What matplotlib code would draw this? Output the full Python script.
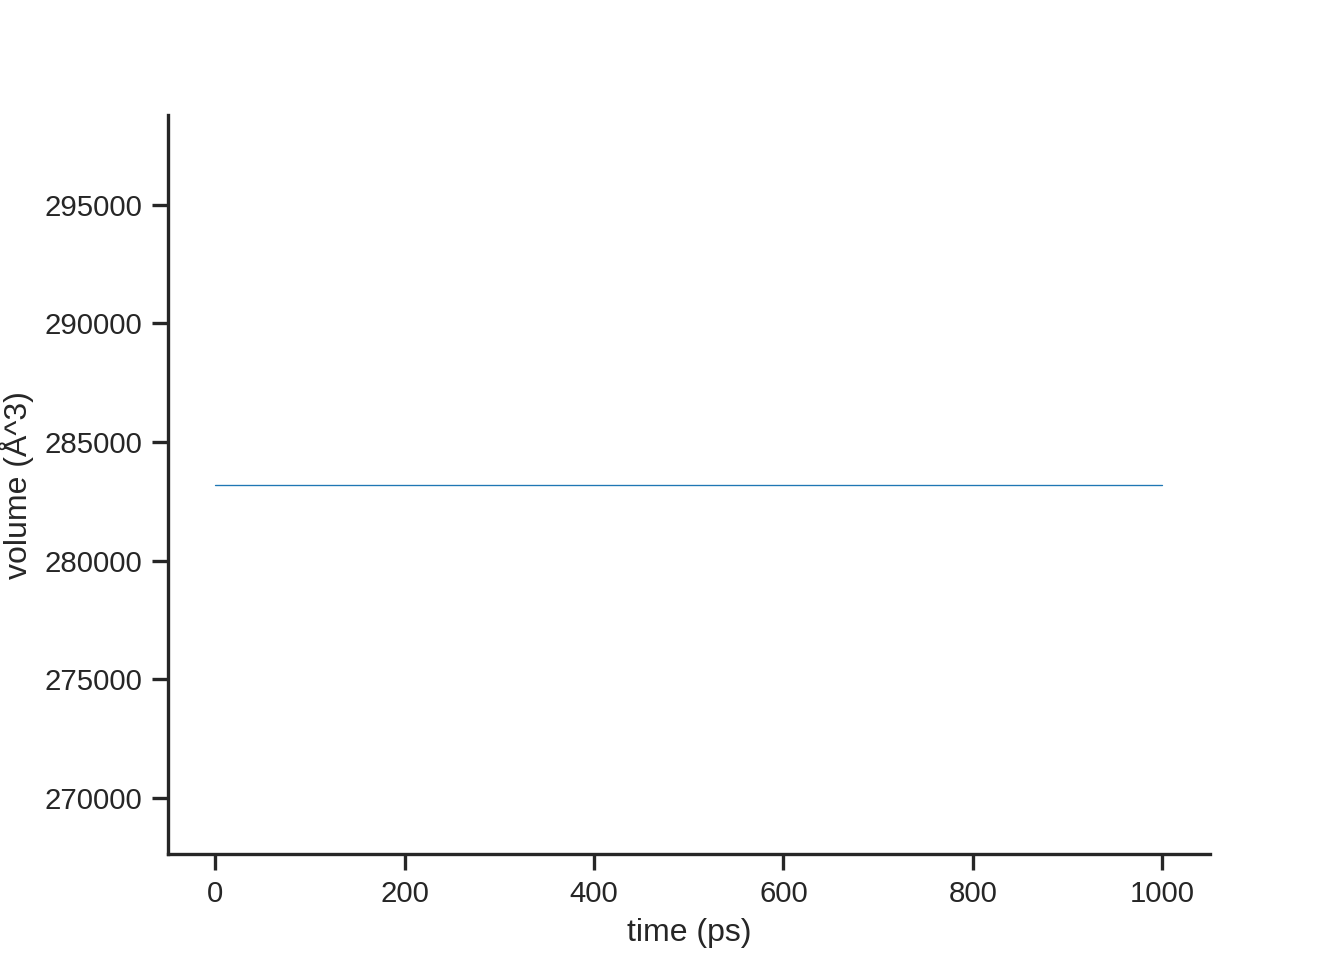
import matplotlib
matplotlib.use('Agg')
import matplotlib.pyplot as plt
import seaborn as sns

# volume trace (flat over the whole run)
time_ps = [0, 100, 200, 300, 400, 500, 600, 700, 800, 900, 1000]
volume_A3 = [283200, 283200, 283200, 283200, 283200, 283200,
             283200, 283200, 283200, 283200, 283200]

sns.set_theme(style='ticks', context='notebook')
plt.rcParams['font.family'] = ['Arial', 'Liberation Sans', 'DejaVu Sans']

fig, ax = plt.subplots(figsize=(7, 5), dpi=192)
ax.plot(time_ps, volume_A3, color='#1f77b4', linewidth=0.5)
ax.set_xlabel('time (ps)')
ax.set_ylabel('volume (Å^3)')
sns.despine(ax=ax)

fig.savefig('out.png', dpi=192)
